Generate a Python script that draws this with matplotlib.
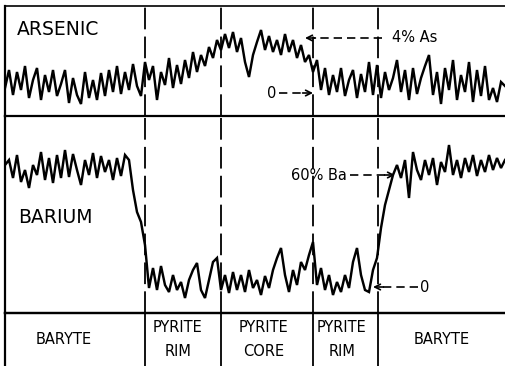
import numpy as np
import matplotlib
matplotlib.use("Agg")
import matplotlib.pyplot as plt

# ---------------- data (intensity, arbitrary units) ----------------
step = 4  # sampling interval along the traverse (arbitrary distance units)

arsenic = [
    # baryte
    28, 46, 21, 44, 26, 50, 18, 36, 48, 16, 41, 24, 46, 20, 32, 46, 13, 38, 21, 12,
    44, 18, 36, 16, 43, 20, 46, 24, 50, 22, 44, 26, 52, 30, 20,
    # pyrite rim
    54, 36, 50, 16, 44, 31, 58, 28, 51, 32, 56, 38, 64, 44, 61, 50, 69, 58, 76,
    # pyrite core
    66, 82, 68, 84, 64, 78, 54, 39, 61, 74, 86, 66, 80, 64, 76, 61, 82, 64, 76, 58,
    71, 54, 61,
    # pyrite rim
    44, 56, 26, 48, 21, 41, 24, 48, 20, 36, 46, 18, 42, 24, 54, 21,
    # baryte
    51, 18, 44, 26, 38, 56, 24, 46, 16, 48, 22, 38, 50, 61, 21, 44, 12, 48, 26, 56,
    16, 41, 24, 54, 14, 46, 20, 50, 16, 28, 14, 34, 30,
]

barium = [
    # baryte
    148, 153, 135, 158, 131, 143, 125, 148, 138, 161, 133, 155, 130, 158, 135, 163,
    136, 159, 143, 128, 153, 138, 160, 135, 157, 141, 153, 133, 155, 137, 158,
    # drop
    153, 123, 101, 91, 68, 25,
    # pyrite rim
    45, 23, 47, 28, 21, 38, 23, 31, 15, 33, 43, 50, 23, 15, 33, 51, 55,
    # pyrite core
    23, 38, 20, 41, 23, 38, 21, 43, 25, 33, 18, 37, 25, 43, 55, 65, 38, 21, 43, 28,
    51, 43, 58, 71,
    # pyrite rim
    28, 45, 23, 38, 18, 31, 21, 38, 25, 51, 65, 38, 23, 21, 43,
    # rise
    55, 85, 108, 123, 138,
    # baryte
    148, 135, 153, 115, 161, 143, 133, 153, 138, 155, 128, 151, 141, 168, 138, 153,
    135, 155, 141, 158, 137, 153, 141, 158, 143, 155, 145, 153,
]

boundaries = [140, 216, 308, 373]
zone_labels = ["BARYTE", "PYRITE\nRIM", "PYRITE\nCORE", "PYRITE\nRIM", "BARYTE"]
zone_centers = [59, 173, 259, 337, 437]

as_zero, as_four = 23, 78
ba_zero, ba_sixty = 26, 138

# ---------------- figure ----------------
W, H = 505, 366
fig = plt.figure(figsize=(W / 100, H / 100), dpi=100)
fig.patch.set_facecolor("white")

x_as = np.arange(len(arsenic)) * step
x_ba = np.arange(len(barium)) * step

ax_as = fig.add_axes([5 / W, (H - 116) / H, 500 / W, 110 / H])
ax_ba = fig.add_axes([5 / W, (H - 313) / H, 500 / W, 197 / H])
ax_lab = fig.add_axes([5 / W, 0, 500 / W, 53 / H])

for ax in (ax_as, ax_ba, ax_lab):
    ax.set_xlim(0, 500)
    ax.set_xticks([])
    ax.set_yticks([])
    ax.spines["right"].set_visible(False)
    for s in ax.spines.values():
        s.set_linewidth(1.6)
        s.set_color("black")
    ax.patch.set_alpha(0)

ax_as.set_ylim(0, 110)
ax_ba.set_ylim(0, 197)
ax_ba.spines["top"].set_visible(False)
ax_lab.set_ylim(0, 1)
ax_lab.spines["bottom"].set_visible(False)
ax_as.spines["top"].set_linewidth(1.2)

ax_as.plot(x_as, arsenic, color="black", lw=1.75, solid_joinstyle="miter")
ax_ba.plot(x_ba, barium, color="black", lw=1.75, solid_joinstyle="miter")

dash = (0, (12, 4))
for b in boundaries:
    ax_as.axvline(b, color="black", lw=1.3, linestyle=dash)
    ax_ba.axvline(b, color="black", lw=1.3, linestyle=dash)
    ax_lab.axvline(b, color="black", lw=1.3)

ax_as.text(0.024, 0.79, "ARSENIC", transform=ax_as.transAxes, fontsize=13.5,
           ha="left", va="center")
ax_ba.text(0.026, 0.487, "BARIUM", transform=ax_ba.transAxes, fontsize=13.5,
           ha="left", va="center")

for c, lab in zip(zone_centers, zone_labels):
    ax_lab.text(c, 0.5, lab, ha="center", va="center", fontsize=10.5,
                linespacing=1.75)

# ---------------- reference-level markers ----------------
ldash = (0, (5, 3))


def marker(ax, y, x_line0, x_tip, text, tx, ha):
    d = 8 if x_tip > x_line0 else -8
    ax.plot([x_line0, x_tip - d], [y, y], color="black", lw=1.2, linestyle=ldash)
    ax.annotate("", xy=(x_tip, y), xytext=(x_tip - d * 1.3, y),
                arrowprops=dict(arrowstyle="->", color="black", lw=1.2,
                                mutation_scale=10, shrinkA=0, shrinkB=0))
    ax.text(tx, y, text, ha=ha, va="center", fontsize=10.5)


marker(ax_as, as_four, 377, 300, "4% As", 387, "left")
marker(ax_as, as_zero, 274, 308, "0", 271, "right")
marker(ax_ba, ba_sixty, 345, 390, "60% Ba", 342, "right")
marker(ax_ba, ba_zero, 413, 368, "0", 415, "left")

fig.savefig("out.png", dpi=100, facecolor="white")
